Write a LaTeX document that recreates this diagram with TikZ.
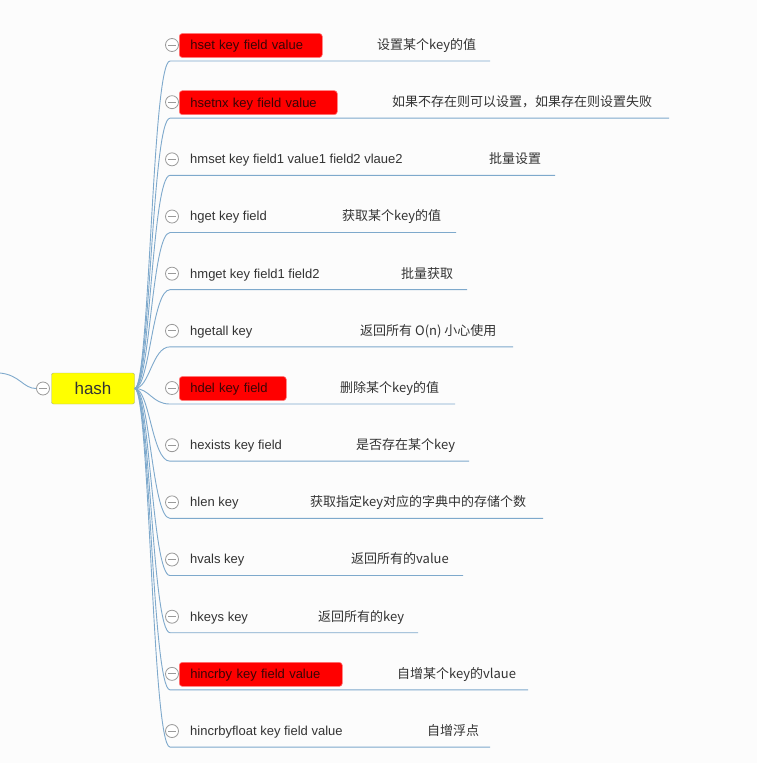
\documentclass[tikz,border=0pt]{standalone}
\usepackage{fontspec}
\setmainfont{Liberation Sans}
\newfontfamily\cjkfont{Noto Sans CJK SC}
\definecolor{bg}{HTML}{FCFCFC}
\definecolor{branch}{HTML}{7EA9CC}
\definecolor{txt}{HTML}{333333}
\definecolor{redtxt}{HTML}{3A0505}
\definecolor{iconc}{HTML}{9A9A9A}
\definecolor{redfill}{HTML}{FF0000}
\definecolor{redline}{HTML}{FF7A7A}
\definecolor{hashfill}{HTML}{FFFF00}
\definecolor{hashline}{HTML}{A7B08A}
\begin{document}
\begin{tikzpicture}[x=1pt,y=-1pt,
  branchline/.style={draw=branch, line width=0.9pt},
  cmd/.style={anchor=west, inner sep=0pt, text=txt, font=\fontsize{13}{13}\selectfont, text height=9.4pt, text depth=0.5pt},
  note/.style={anchor=west, inner sep=0pt, text=txt, font=\cjkfont\fontsize{13}{13}\selectfont, text height=9.4pt, text depth=0.5pt},
  redbox/.style={anchor=west, fill=redfill, draw=redline, line width=0.6pt, rounded corners=3pt, minimum height=24pt, inner xsep=11pt, inner ysep=0pt, align=left, text=redtxt, font=\fontsize{13}{13}\selectfont, text height=9.4pt, text depth=0.5pt},
  foldicon/.style={circle, draw=iconc, fill=white, line width=0.8pt, minimum size=13pt, inner sep=0pt,
    path picture={\draw[iconc, line width=0.8pt] ([xshift=2.5pt]path picture bounding box.west) -- ([xshift=-2.5pt]path picture bounding box.east);}},
  rootbox/.style={draw=hashline, fill=hashfill, rounded corners=2pt, minimum width=83pt, minimum height=31pt, inner sep=0pt, font=\fontsize{17}{17}\selectfont, text=txt}
]
\fill[bg] (0,0) rectangle (757,763);
\useasboundingbox (0,0) rectangle (757,763);

\node[rootbox] (hash) at (93,388.5) {hash};
\node[foldicon] (hashfold) at (43,388.5) {};
\coordinate (incoming) at (0,373);
\draw[branchline] (incoming) .. controls +(20,2) and +(-13,0) .. (hashfold.west);

\foreach \i/\cmdtext/\notetext/\nx/\ex/\rw in {
  1/{hset key field value}/{设置某个key的值}/377/490/143,
  2/{hsetnx key field value}/{如果不存在则可以设置，如果存在则设置失败}/392/669/158,
  3/{hmset key field1 value1 field2 vlaue2}/{批量设置}/489/555/0,
  4/{hget key field}/{获取某个key的值}/342/456/0,
  5/{hmget key field1 field2}/{批量获取}/401/467/0,
  6/{hgetall key}/{返回所有 O(n) 小心使用}/360/513/0,
  7/{hdel key field}/{删除某个key的值}/340/455/107,
  8/{hexists key field}/{是否存在某个key}/356/469/0,
  9/{hlen key}/{获取指定key对应的字典中的存储个数}/310/543/0,
  10/{hvals key}/{返回所有的value}/351/463/0,
  11/{hkeys key}/{返回所有的key}/318/418/0,
  12/{hincrby key field value}/{自增某个key的vlaue}/397/528/163,
  13/{hincrbyfloat key field value}/{自增浮点}/427/490/0}{
  \pgfmathsetmacro\uy{61+(\i-1)*57.17}
  \pgfmathsetmacro\ty{\uy-16}
  \coordinate (u\i) at (170,\uy);
  \coordinate (v\i) at (\ex,\uy);
  \draw[branchline] (hash.east) .. controls +(15,0) and +(-18,0) .. (u\i) -- (v\i);
  \node[foldicon] (f\i) at (172,\ty) {};
  \ifnum\rw>0
    \pgfmathsetmacro\tw{\rw-22}
    \node[redbox, text width=\tw pt] (c\i) at (179,\ty+0.5) {\cmdtext};
  \else
    \node[cmd] (c\i) at (190,\ty) {\cmdtext};
  \fi
  \node[note] (n\i) at (\nx,\ty) {\notetext};
}
\end{tikzpicture}
\end{document}
